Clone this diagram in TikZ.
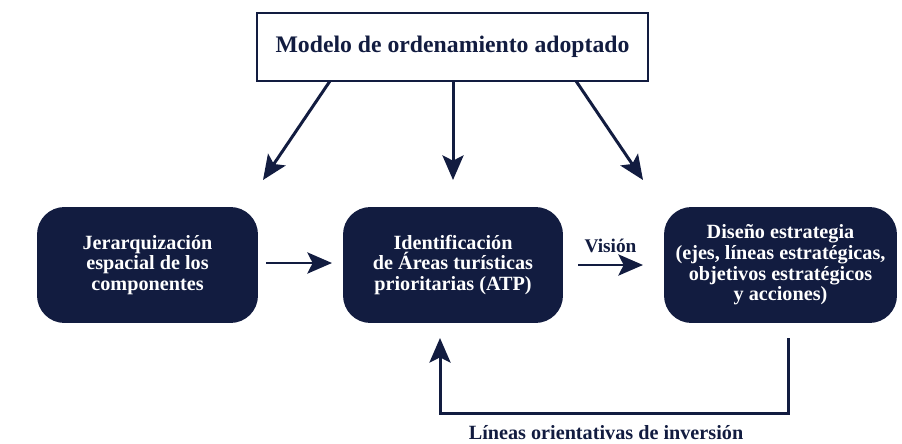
\documentclass[tikz,border=0pt]{standalone}
\usepackage{fontspec}
\setmainfont{Liberation Serif}
\usetikzlibrary{arrows.meta}
\definecolor{navy}{RGB}{18,28,64}

\begin{document}
\begin{tikzpicture}
  [x=0.02cm,y=-0.02cm,font=\bfseries,
   box/.style={rectangle,rounded corners=0.55cm,fill=navy,text=white,
     align=center,minimum height=2.32cm,font=\bfseries\fontsize{11.5}{11.8}\selectfont},
   flow/.style={draw=navy,line width=1.7pt,-{Stealth[length=14pt,width=12pt,inset=3pt]}}]
  \useasboundingbox (0,0) rectangle (902,443);

  \node[draw=navy,line width=1.3pt,minimum width=7.82cm,minimum height=1.36cm,
        text=navy,font=\bfseries\fontsize{13.5}{16}\selectfont] (m) at (452.5,47)
        {Modelo de ordenamiento adoptado};
  \node[box,minimum width=4.42cm] (j) at (147.5,265)
        {Jerarquización\\espacial de los\\componentes};
  \node[box,minimum width=4.40cm] (i) at (453,265)
        {Identificación\\de Áreas turísticas\\prioritarias (ATP)};
  \node[box,minimum width=4.66cm] (d) at (780.5,265)
        {Diseño estrategia\\(ejes, líneas estratégicas,\\objetivos estratégicos\\y acciones)};

  \coordinate (a1) at (263,180);
  \coordinate (a2) at (453,180);
  \coordinate (a3) at (643,180);
  \foreach \from/\to in {330/a1,453/a2,576/a3}
    \draw [flow] (\from,81) -- (\to);

  \draw [flow] (266,263) -- (332,263);
  \draw [flow] (578,265) -- (643,265)
    node[midway,above=3pt,text=navy,font=\bfseries\fontsize{11}{13}\selectfont] {Visión};

  \draw [flow] (788,338) -- (788,413) -- (440,413) -- (440,338);
  \node[text=navy,font=\bfseries\fontsize{11.5}{13}\selectfont] (l) at (606,433)
        {Líneas orientativas de inversión};
\end{tikzpicture}
\end{document}
